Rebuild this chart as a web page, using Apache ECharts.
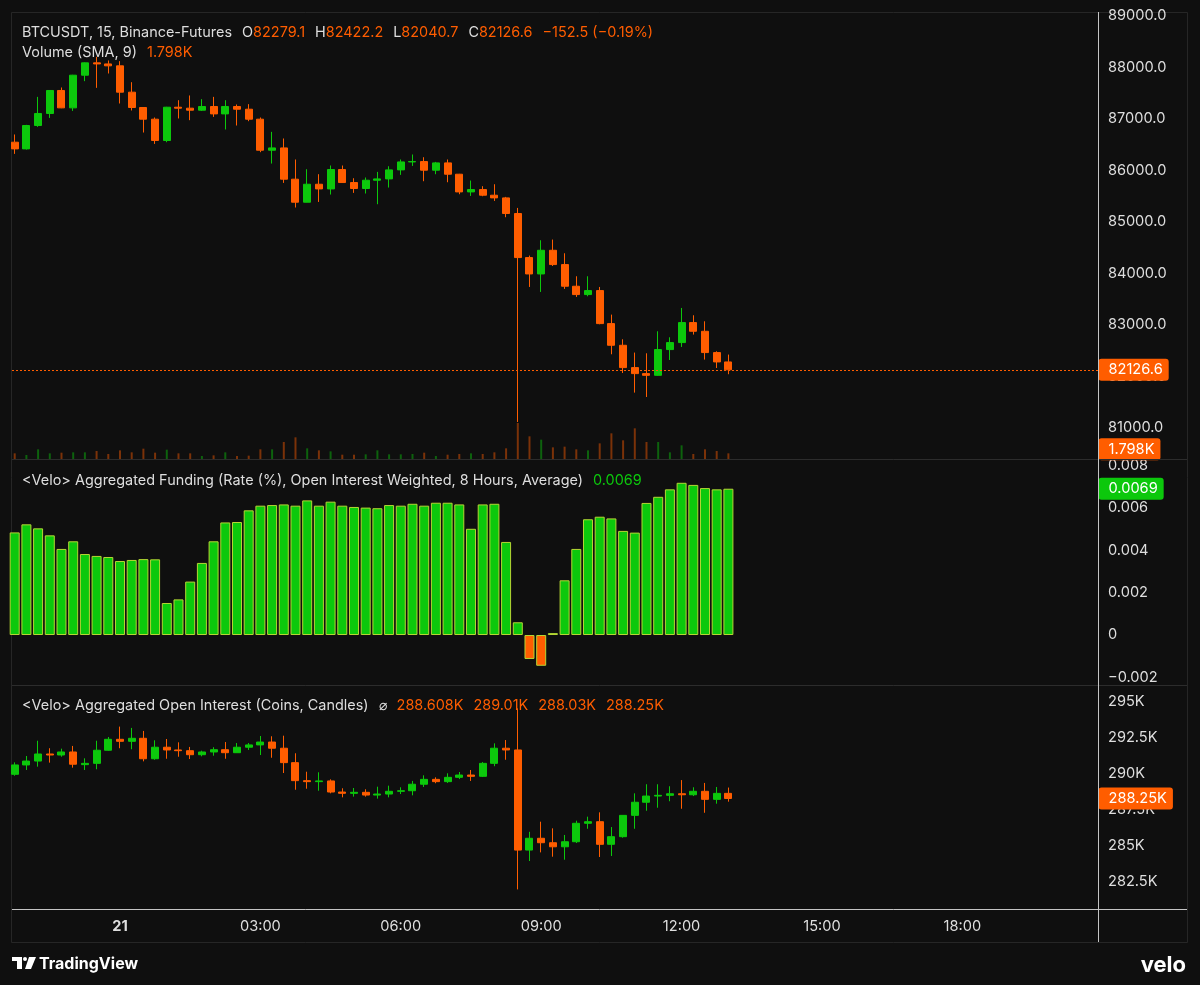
<!DOCTYPE html>
<html><head><meta charset="utf-8">
<script src="https://cdn.jsdelivr.net/npm/echarts@6.0.0/dist/echarts.min.js"></script>
<style>html,body{margin:0;padding:0;background:#0f0f0f}#c{width:1200px;height:985px}</style>
</head><body><div id="c"></div><script>
// ---- data (15-minute candles; slot 0 = 00:00 on the 21st, first candle = 21:45 on the 20th) ----
const firstSlot = -9;
const priceOpen  = [86549,86419,86873,87107,87554,87216,87851,88091,88070,88033,87521,87223,86996,86582,87229,87210,87171,87243,87099,87243,87190,86996,86393,86438,85830,85383,85732,85641,86018,85765,85649,85810,85836,86011,86166,86173,86005,86147,85927,85583,85629,85519,85467,85163,84307,83989,84449,84171,83750,83588,83666,83024,82603,82169,82052,82019,82519,82655,83044,82875,82461,82279.1];
const priceClose = [86419,86873,87107,87554,87216,87851,88091,88070,88033,87521,87223,86996,86582,87229,87210,87171,87243,87099,87243,87190,86996,86393,86438,85830,85383,85732,85641,86018,85765,85649,85810,85836,86011,86166,86173,86005,86147,85927,85583,85629,85519,85467,85163,84307,83989,84449,84171,83750,83588,83666,83024,82603,82169,82052,82019,82519,82655,83044,82875,82461,82279.1,82126.6];
const priceLow   = [86322,86406,86847,87021,87210,87157,87735,87605,87884,87301,87165,86737,86516,86549,87010,86977,87157,87041,86796,86873,86957,86355,86134,85758,85280,85380,85388,85532,85760,85564,85552,85344,85668,85914,86088,85791,85927,85771,85538,85505,85499,85408,85091,81112,83736,83639,84144,83698,83542,83555,83011,82428,82064,81683,81598,82010,82317,82570,82811,82325,82161,82040.7];
const priceHigh  = [86699,86886,87430,87560,87612,87858,88100,88207,88137,88124,87715,87230,87029,87236,87365,87457,87385,87430,87365,87282,87288,87029,86750,86621,86213,86024,85927,86096,86096,85849,85863,85972,86082,86213,86310,86257,86166,86213,85933,85804,85694,85732,85486,85272,84346,84644,84657,84391,83944,83944,83736,83199,82719,82461,82447,82875,82758,83328,83186,83069,82486,82422.2];
const volumeK    = [1.80,1.27,3.07,1.80,2.01,2.12,2.12,2.54,1.59,2.75,2.12,3.28,2.01,2.96,1.80,1.80,0.95,1.16,2.12,0.95,1.06,3.07,3.07,5.40,6.88,3.39,2.75,2.43,1.37,1.37,1.48,2.75,1.48,1.48,1.59,2.01,0.95,1.37,1.59,1.80,1.59,2.12,3.39,11.43,7.20,6.14,3.70,3.92,3.07,2.75,4.97,8.15,5.93,9.74,5.40,5.40,2.12,4.34,1.59,3.07,2.54,1.798];
const fundingRate = [0.00484,0.00522,0.00503,0.00470,0.00406,0.00442,0.00382,0.00373,0.00368,0.00349,0.00354,0.00358,0.00357,0.00151,0.00168,0.00252,0.00340,0.00442,0.00531,0.00533,0.00588,0.00610,0.00613,0.00616,0.00610,0.00635,0.00610,0.00629,0.00610,0.00604,0.00601,0.00598,0.00613,0.00610,0.00619,0.00610,0.00624,0.00624,0.00616,0.00501,0.00616,0.00619,0.00439,0.00060,-0.00113,-0.00145,0.00009,0.00258,0.00406,0.00546,0.00558,0.00550,0.00491,0.00483,0.00623,0.00652,0.00687,0.00718,0.00708,0.00693,0.00687,0.0069];
const oiOpen  = [289.93,290.58,290.85,291.34,291.27,291.48,290.60,290.69,291.60,292.36,292.22,292.43,291.01,291.81,291.62,291.57,291.29,291.48,291.64,291.43,291.81,291.97,292.17,291.74,290.74,289.49,289.42,289.47,288.70,288.61,288.68,288.49,288.56,288.75,288.79,289.24,289.58,289.42,289.72,289.88,289.79,290.69,291.74,291.62,284.67,285.49,285.18,284.90,285.25,286.53,286.64,285.07,285.60,287.08,287.99,288.42,288.47,288.58,288.51,288.75,288.19,288.608];
const oiClose = [290.58,290.85,291.34,291.27,291.48,290.63,290.69,291.60,292.36,292.22,292.43,291.01,291.81,291.62,291.57,291.29,291.48,291.64,291.43,291.81,291.97,292.17,291.74,290.74,289.49,289.42,289.47,288.70,288.61,288.68,288.49,288.56,288.75,288.79,289.24,289.58,289.42,289.72,289.88,289.79,290.69,291.74,291.62,284.67,285.49,285.18,284.90,285.25,286.53,286.64,285.07,285.60,287.08,287.99,288.42,288.47,288.58,288.51,288.75,288.19,288.608,288.25];
const oiLow   = [289.83,290.23,290.46,290.74,291.15,290.39,290.23,290.28,291.57,291.74,291.67,290.83,290.94,291.01,291.15,290.99,291.18,291.22,291.01,291.41,291.62,291.27,291.08,290.02,288.86,288.93,288.79,288.61,288.33,288.38,288.38,288.24,288.33,288.56,288.47,289.05,289.31,289.33,289.60,289.47,289.74,290.49,290.94,281.94,283.91,284.51,284.21,284.00,285.16,286.15,284.19,284.26,285.53,286.15,287.40,287.61,288.06,287.54,288.42,287.26,287.89,288.03];
const oiHigh  = [290.76,291.20,292.26,291.74,291.71,291.90,291.04,292.26,292.52,293.24,293.15,292.94,292.29,292.38,292.15,291.83,291.57,291.81,292.17,292.10,292.10,292.59,292.57,292.61,291.39,290.11,290.07,289.58,288.96,288.98,288.89,289.07,289.14,289.03,289.47,289.86,289.72,290.00,290.09,290.23,290.78,292.08,292.31,294.51,285.94,286.64,286.18,285.72,286.71,286.99,287.29,286.27,287.10,288.61,289.24,289.24,289.10,289.53,289.03,289.33,289.05,289.01];
const timeTickSlots = [0,12,24,36,48,60,72];
const priceTicks   = [81000,82000,83000,84000,85000,86000,87000,88000,89000];
const fundingTicks = [-0.002,0,0.002,0.004,0.006,0.008];
const oiTicks      = [282.5,285,287.5,290,292.5,295];

// ---- styling ----
const GREEN = '#0cc80c', ORANGE = '#ff5d00', TEXT = '#dedede', BG = '#0f0f0f';
const FONT = 'Inter, Roboto, sans-serif';
const FS = 14.45;     // legend text
const AFS = 14.6;     // axis text
const XMIN = -9.23, XMAX = 83.59;
const slots = priceOpen.map((_, i) => firstSlot + i);
const last = priceOpen.length - 1;

const fmtTime = s => {
  if (s % 96 === 0) return '{b|' + (21 + s / 96) + '}';
  const m = ((s * 15) % 1440 + 1440) % 1440;
  return String(Math.floor(m / 60)).padStart(2, '0') + ':' + String(m % 60).padStart(2, '0');
};
const minus = s => s.replace('-', '\u2212');
const kfmt = v => Number(v.toFixed(3)) + 'K';

const chg = priceClose[last] - priceClose[last - 1];
const pct = chg / priceClose[last - 1] * 100;

const grids = [
  {left: 12, top: 12, width: 1086, height: 447},
  {left: 12, top: 359, width: 1086, height: 100},
  {left: 12, top: 460, width: 1086, height: 225},
  {left: 12, top: 686, width: 1086, height: 223}
];
const xAxes = grids.map((g, i) => ({
  type: 'value', gridIndex: i, min: XMIN, max: XMAX,
  axisLine: {show: false}, axisTick: {show: false}, splitLine: {show: false},
  axisLabel: i === 3 ? {
    show: true, customValues: timeTickSlots, formatter: fmtTime, color: TEXT,
    fontFamily: FONT, fontSize: AFS, margin: 10,
    rich: {b: {fontWeight: 'bold', fontFamily: FONT, fontSize: AFS, color: TEXT}}
  } : {show: false}
}));
const yLabel = (vals, fmt) => ({
  show: true, customValues: vals, formatter: fmt, color: TEXT,
  fontFamily: FONT, fontSize: AFS, margin: 10, align: 'left'
});
const yBase = {type: 'value', position: 'right', axisLine: {show: false}, axisTick: {show: false}, splitLine: {show: false}};
const yAxes = [
  Object.assign({}, yBase, {gridIndex: 0, min: 80393, max: 89079, axisLabel: yLabel(priceTicks, v => v.toFixed(1))}),
  Object.assign({}, yBase, {gridIndex: 1, min: 0, max: 31.75, axisLabel: {show: false}}),
  Object.assign({}, yBase, {gridIndex: 2, min: -0.002358, max: 0.008255,
    axisLabel: yLabel(fundingTicks, v => v === 0 ? '0' : minus(v.toFixed(3)))}),
  Object.assign({}, yBase, {gridIndex: 3, min: 280.58, max: 296.06, axisLabel: yLabel(oiTicks, v => v + 'K')})
];

const tag = (val, text, bg, showLine, extra) => ({
  symbol: 'none', silent: true, animation: false, precision: 8,
  data: [{yAxis: val}],
  lineStyle: showLine ? {color: bg, type: [2, 2], width: 1} : {color: 'rgba(0,0,0,0)', width: 1},
  label: Object.assign({show: true, position: 'end', distance: 0.5, formatter: text,
    backgroundColor: bg, color: '#ffffff', fontFamily: FONT, fontSize: AFS,
    padding: [4, 6, 3, 10], borderRadius: 3}, extra || {})
});

const candleStyle = {color: GREEN, color0: ORANGE, borderColor: GREEN, borderColor0: ORANGE, borderWidth: 1};

const series = [
  {
    type: 'candlestick', xAxisIndex: 0, yAxisIndex: 0, barWidth: 7.5,
    data: slots.map((s, i) => [s, priceOpen[i], priceClose[i], priceLow[i], priceHigh[i]]),
    itemStyle: candleStyle,
    markLine: tag(priceClose[last], priceClose[last].toFixed(1), ORANGE, true)
  },
  {
    type: 'bar', xAxisIndex: 1, yAxisIndex: 1, barWidth: 2,
    data: slots.map((s, i) => [s, volumeK[i]]),
    itemStyle: {color: p => priceClose[p.dataIndex] >= priceOpen[p.dataIndex] ? 'rgba(12,200,12,0.45)' : 'rgba(255,93,0,0.45)'},
    markLine: tag(volumeK[last], volumeK[last].toFixed(3) + 'K', ORANGE, false, {offset: [0, -4]})
  },
  {
    type: 'bar', xAxisIndex: 2, yAxisIndex: 2, barWidth: 10,
    data: slots.map((s, i) => [s, fundingRate[i]]),
    itemStyle: {
      color: p => p.value[1] >= 0 ? GREEN : ORANGE,
      borderColor: p => p.value[1] >= 0 ? '#087a08' : '#9a3800',
      borderWidth: 1
    },
    markLine: tag(fundingRate[last], fundingRate[last].toFixed(4), GREEN, false)
  },
  {
    type: 'candlestick', xAxisIndex: 3, yAxisIndex: 3, barWidth: 7.5,
    data: slots.map((s, i) => [s, oiOpen[i], oiClose[i], oiLow[i], oiHigh[i]]),
    itemStyle: candleStyle,
    markLine: tag(oiClose[last], kfmt(oiClose[last]), ORANGE, false)
  }
];

const tok = c => ({color: c, fontFamily: FONT, fontSize: FS, fontWeight: 'normal'});
const rich = {w: tok(TEXT), o: tok(ORANGE), g: tok(GREEN), s: {width: 10, fontSize: FS, fontWeight: 'normal'}};
const L = priceOpen.length - 1;
const titles = [
  {top: 25, text: '{w|BTCUSDT, 15, Binance-Futures}{s| }{w|O}{o|' + priceOpen[L].toFixed(1) + '}{s| }{w|H}{o|' + priceHigh[L].toFixed(1) +
     '}{s| }{w|L}{o|' + priceLow[L].toFixed(1) + '}{s| }{w|C}{o|' + priceClose[L].toFixed(1) + '}{s| }{o|' +
     minus(chg.toFixed(1)) + ' (' + minus(pct.toFixed(2)) + '%)}'},
  {top: 45, text: '{w|Volume (SMA, 9)}{s| }{o|' + volumeK[L].toFixed(3) + 'K}'},
  {top: 473, text: '{w|<Velo> Aggregated Funding (Rate (%), Open Interest Weighted, 8 Hours, Average)}{s| }{g|' + fundingRate[L].toFixed(4) + '}'},
  {top: 698, text: '{w|<Velo> Aggregated Open Interest (Coins, Candles)}{s| }{w|\u2300}{s| }{o|' + kfmt(oiOpen[L]) + '}{s| }{o|' + kfmt(oiHigh[L]) +
     '}{s| }{o|' + kfmt(oiLow[L]) + '}{s| }{o|' + kfmt(oiClose[L]) + '}'}
].map(t => Object.assign({left: 22, padding: 0, textStyle: {rich: rich, lineHeight: 16, fontWeight: 'normal'}}, t));

const line = (x1, y1, x2, y2, c) => ({type: 'line', silent: true, z: 100, shape: {x1, y1, x2, y2}, style: {stroke: c, lineWidth: 1}});
const graphic = [
  {type: 'rect', silent: true, z: -10, shape: {x: 11.5, y: 12.5, width: 1176, height: 930}, style: {fill: null, stroke: '#262626', lineWidth: 1}},
  line(12, 459.5, 1187, 459.5, '#2c2c2c'),
  line(12, 685.5, 1187, 685.5, '#2c2c2c'),
  line(12, 909.5, 1187, 909.5, '#c4c4c4'),
  line(1098.5, 12, 1098.5, 942, '#c4c4c4'),
  // TradingView logo + wordmark
  {type: 'rect', silent: true, shape: {x: 12, y: 957, width: 10, height: 4}, style: {fill: '#ffffff'}},
  {type: 'rect', silent: true, shape: {x: 17, y: 957, width: 5, height: 12}, style: {fill: '#ffffff'}},
  {type: 'circle', silent: true, shape: {cx: 25, cy: 959, r: 2}, style: {fill: '#ffffff'}},
  {type: 'polygon', silent: true, shape: {points: [[29, 957], [36, 957], [31, 969], [25, 969]]}, style: {fill: '#ffffff'}},
  {type: 'text', silent: true, x: 39, y: 964, style: {text: 'TradingView', fill: '#ffffff', font: 'bold 16px ' + FONT, textVerticalAlign: 'middle'}},
  {type: 'text', silent: true, x: 1186, y: 965, style: {text: 'velo', fill: '#ffffff', font: 'bold 22px ' + FONT, textAlign: 'right', textVerticalAlign: 'middle'}}
];

const chart = echarts.init(document.getElementById('c'), null, {renderer: 'canvas'});
chart.setOption({
  backgroundColor: BG, animation: false,
  title: titles, grid: grids, xAxis: xAxes, yAxis: yAxes, series: series, graphic: graphic
});
</script></body></html>
